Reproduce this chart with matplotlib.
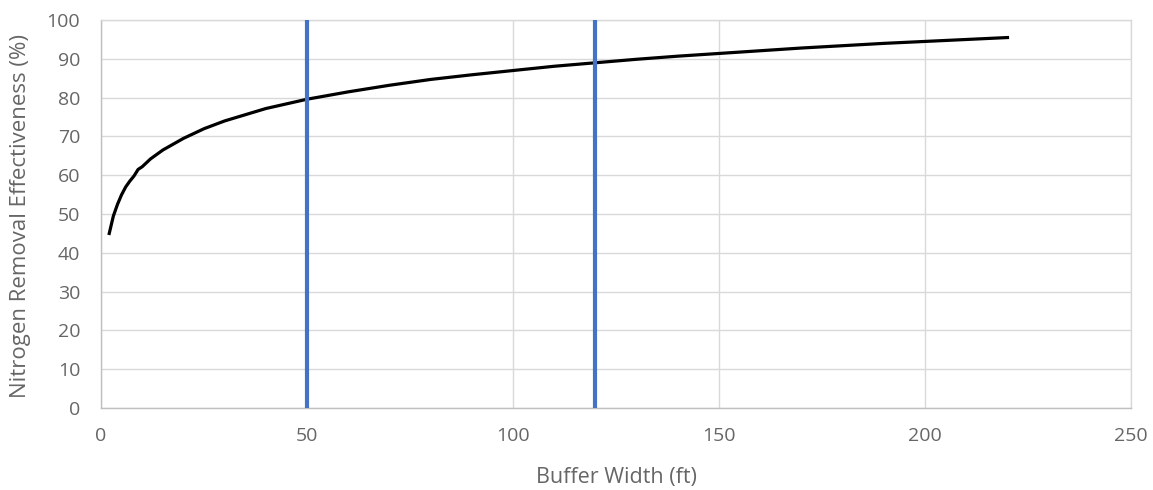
import numpy as np
import matplotlib
matplotlib.use("Agg")
import matplotlib.pyplot as plt

# buffer width (ft) vs nitrogen removal effectiveness (%)
width_ft = [2, 3, 4, 5, 6, 7, 8, 9, 10, 12, 15, 20, 25, 30, 40, 50, 60, 70, 80,
            90, 100, 110, 120, 130, 140, 150, 160, 170, 180, 190, 200, 210, 220]
effectiveness = [45.0, 49.5, 52.5, 55.0, 57.0, 58.5, 59.8, 61.5, 62.2, 64.2, 66.5,
                 69.5, 72.0, 74.0, 77.2, 79.6, 81.5, 83.2, 84.7, 85.9, 87.0, 88.1,
                 89.0, 89.9, 90.7, 91.4, 92.1, 92.8, 93.4, 94.0, 94.5, 95.0, 95.5]
marker_widths = [50, 120]

x_ticks = [0, 50, 100, 150, 200, 250]
y_ticks = list(range(0, 101, 10))

plt.rcParams["font.family"] = ["Open Sans", "DejaVu Sans"]
text_color = "#666666"
grid_color = "#D9D9D9"

fig = plt.figure(figsize=(11.53, 4.9), dpi=100)
ax = fig.add_axes([0.0876, 0.1673, 0.8934, 0.7917])

ax.plot(width_ft, effectiveness, color="black", linewidth=2.3, zorder=3)
for w in marker_widths:
    ax.axvline(w, color="#4472C4", linewidth=3, zorder=4)

ax.set_xlim(0, 250)
ax.set_ylim(0, 100)
ax.set_xticks(x_ticks)
ax.set_yticks(y_ticks)
ax.tick_params(axis="both", length=0, labelsize=14, labelcolor=text_color)
ax.tick_params(axis="x", pad=14)
ax.tick_params(axis="y", pad=15)

ax.grid(True, color=grid_color, linewidth=1, zorder=0)
ax.set_axisbelow(True)
for spine in ax.spines.values():
    spine.set_color(grid_color)
    spine.set_linewidth(1)
ax.spines["bottom"].set_color("#BFBFBF")
ax.spines["left"].set_color("#BFBFBF")

ax.set_xlabel("Buffer Width (ft)", fontsize=15.5, color=text_color, va="center")
ax.set_ylabel("Nitrogen Removal Effectiveness (%)", fontsize=16, color=text_color, va="center")
ax.xaxis.set_label_coords(0.5, -0.18)
ax.yaxis.set_label_coords(-0.078, 0.495)

fig.savefig("out.png", dpi=100)
